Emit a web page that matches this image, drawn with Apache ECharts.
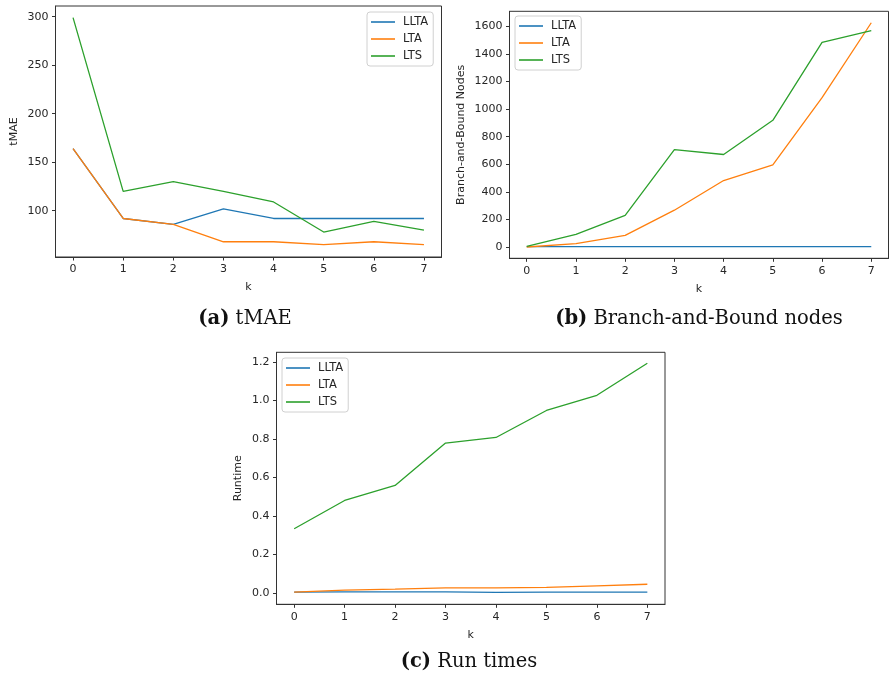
<!DOCTYPE html>
<html>
<head>
<meta charset="utf-8">
<script src="https://cdn.jsdelivr.net/npm/echarts@6/dist/echarts.min.js"></script>
<style>
  html, body { margin: 0; padding: 0; background: #fff; }
  #chart { width: 889px; height: 680px; }
</style>
</head>
<body>
<div id="chart"></div>
<script>
// k values shared by all three panels
const kValues = [0, 1, 2, 3, 4, 5, 6, 7];
const seriesNames = ["LLTA", "LTA", "LTS"];

// (a) tMAE
const tmaeLLTA = [164, 92, 86, 102, 92, 92, 92, 92];
const tmaeLTA = [164, 92, 86, 68, 68, 65, 68, 65];
const tmaeLTS = [299, 120, 130, 120, 109, 78, 89, 80];
const tmaeTicks = [100, 150, 200, 250, 300];

// (b) Branch-and-Bound nodes
const bbLLTA = [3, 3, 3, 3, 2, 2, 2, 2];
const bbLTA = [0, 24, 84, 267, 482, 596, 1083, 1627];
const bbLTS = [5, 92, 229, 707, 671, 919, 1484, 1569];
const bbTicks = [0, 200, 400, 600, 800, 1000, 1200, 1400, 1600];

// (c) Run times
const rtLLTA = [0.005, 0.006, 0.006, 0.006, 0.004, 0.005, 0.005, 0.005];
const rtLTA = [0.005, 0.016, 0.021, 0.027, 0.027, 0.030, 0.038, 0.046];
const rtLTS = [0.334, 0.481, 0.559, 0.779, 0.808, 0.948, 1.027, 1.193];
const rtTicks = [0, 0.2, 0.4, 0.6, 0.8, 1.0, 1.2];

const colors = ["#1f77b4", "#ff7f0e", "#2ca02c"];
const textColor = "#262626";

var chart = echarts.init(document.getElementById("chart"));

const makeX = (gridIndex) => ({
  type: "value",
  gridIndex: gridIndex,
  min: -0.35,
  max: 7.35,
  name: "k",
  nameLocation: "middle",
  nameGap: 25,
  nameTextStyle: { color: textColor, fontSize: 11, fontFamily: "DejaVu Sans" },
  axisLine: { show: true, onZero: false, lineStyle: { color: "#333", width: 1 } },
  axisTick: { show: true, length: 3.5, customValues: kValues, lineStyle: { color: "#333" } },
  axisLabel: {
    customValues: kValues,
    margin: 7,
    color: textColor,
    fontSize: 11,
    fontFamily: "DejaVu Sans",
  },
  splitLine: { show: false },
});

const makeY = (gridIndex, min, max, ticks, name, gap, fmt) => ({
  type: "value",
  gridIndex: gridIndex,
  min: min,
  max: max,
  name: name,
  nameLocation: "middle",
  nameGap: gap,
  nameTextStyle: { color: textColor, fontSize: 11, fontFamily: "DejaVu Sans" },
  axisLine: { show: true, onZero: false, lineStyle: { color: "#333", width: 1 } },
  axisTick: { show: true, length: 3.5, customValues: ticks, lineStyle: { color: "#333" } },
  axisLabel: {
    customValues: ticks,
    margin: 7,
    color: textColor,
    fontSize: 11,
    fontFamily: "DejaVu Sans",
    formatter: fmt,
  },
  splitLine: { show: false },
});

const makeLegend = (left, top) => ({
  left: left,
  top: top,
  orient: "vertical",
  data: seriesNames,
  icon: "rect",
  itemWidth: 24,
  itemHeight: 1.6,
  itemGap: 5,
  padding: [4, 5, 4, 4],
  borderColor: "#d0d0d0",
  borderWidth: 1,
  borderRadius: 3,
  backgroundColor: "#fff",
  selectedMode: false,
  textStyle: {
    color: textColor,
    fontSize: 11.5,
    lineHeight: 12,
    fontFamily: "DejaVu Sans",
    padding: [0, 0, 0, 3],
  },
});

const makeLine = (name, values, idx, colorIdx) => ({
  name: name,
  type: "line",
  xAxisIndex: idx,
  yAxisIndex: idx,
  data: kValues.map((k, i) => [k, values[i]]),
  showSymbol: false,
  symbol: "none",
  color: colors[colorIdx],
  lineStyle: { width: 1.3, color: colors[colorIdx] },
  animation: false,
});

const captionStyle = {
  fontFamily: "DejaVu Serif",
  fontSize: 19.5,
  fontWeight: "normal",
  color: "#111",
  rich: {
    b: { fontFamily: "DejaVu Serif", fontSize: 19.5, fontWeight: "bold", color: "#111" },
    n: { fontFamily: "DejaVu Serif", fontSize: 19.5, fontWeight: "normal", color: "#111" },
  },
};

let option = {
  animation: false,
  backgroundColor: "#fff",
  title: [
    { text: "{b|(a)} {n|tMAE}", left: 240, top: 304, textAlign: "center", textStyle: captionStyle },
    { text: "{b|(b)} {n|Branch-and-Bound nodes}", left: 694, top: 304, textAlign: "center", textStyle: captionStyle },
    { text: "{b|(c)} {n|Run times}", left: 464, top: 647, textAlign: "center", textStyle: captionStyle },
  ],
  grid: [
    { left: 55.5, top: 6, width: 386, height: 251, show: true, borderColor: "#333", borderWidth: 1, backgroundColor: "transparent" },
    { left: 509.5, top: 11.3, width: 379, height: 247, show: true, borderColor: "#333", borderWidth: 1, backgroundColor: "transparent" },
    { left: 276.5, top: 352.3, width: 388.5, height: 252, show: true, borderColor: "#333", borderWidth: 1, backgroundColor: "transparent" },
  ],
  xAxis: [makeX(0), makeX(1), makeX(2)],
  yAxis: [
    makeY(0, 52.3, 311, tmaeTicks, "tMAE", 36, (v) => String(Math.round(v))),
    makeY(1, -82, 1710, bbTicks, "Branch-and-Bound Nodes", 43, (v) => String(Math.round(v))),
    makeY(2, -0.058, 1.25, rtTicks, "Runtime", 33, (v) => v.toFixed(1)),
  ],
  legend: [makeLegend(367, 12), makeLegend(515, 16), makeLegend(282, 358)],
  series: [
    makeLine("LLTA", tmaeLLTA, 0, 0),
    makeLine("LTA", tmaeLTA, 0, 1),
    makeLine("LTS", tmaeLTS, 0, 2),
    makeLine("LLTA", bbLLTA, 1, 0),
    makeLine("LTA", bbLTA, 1, 1),
    makeLine("LTS", bbLTS, 1, 2),
    makeLine("LLTA", rtLLTA, 2, 0),
    makeLine("LTA", rtLTA, 2, 1),
    makeLine("LTS", rtLTS, 2, 2),
  ],
};

chart.setOption(option);
</script>
</body>
</html>
